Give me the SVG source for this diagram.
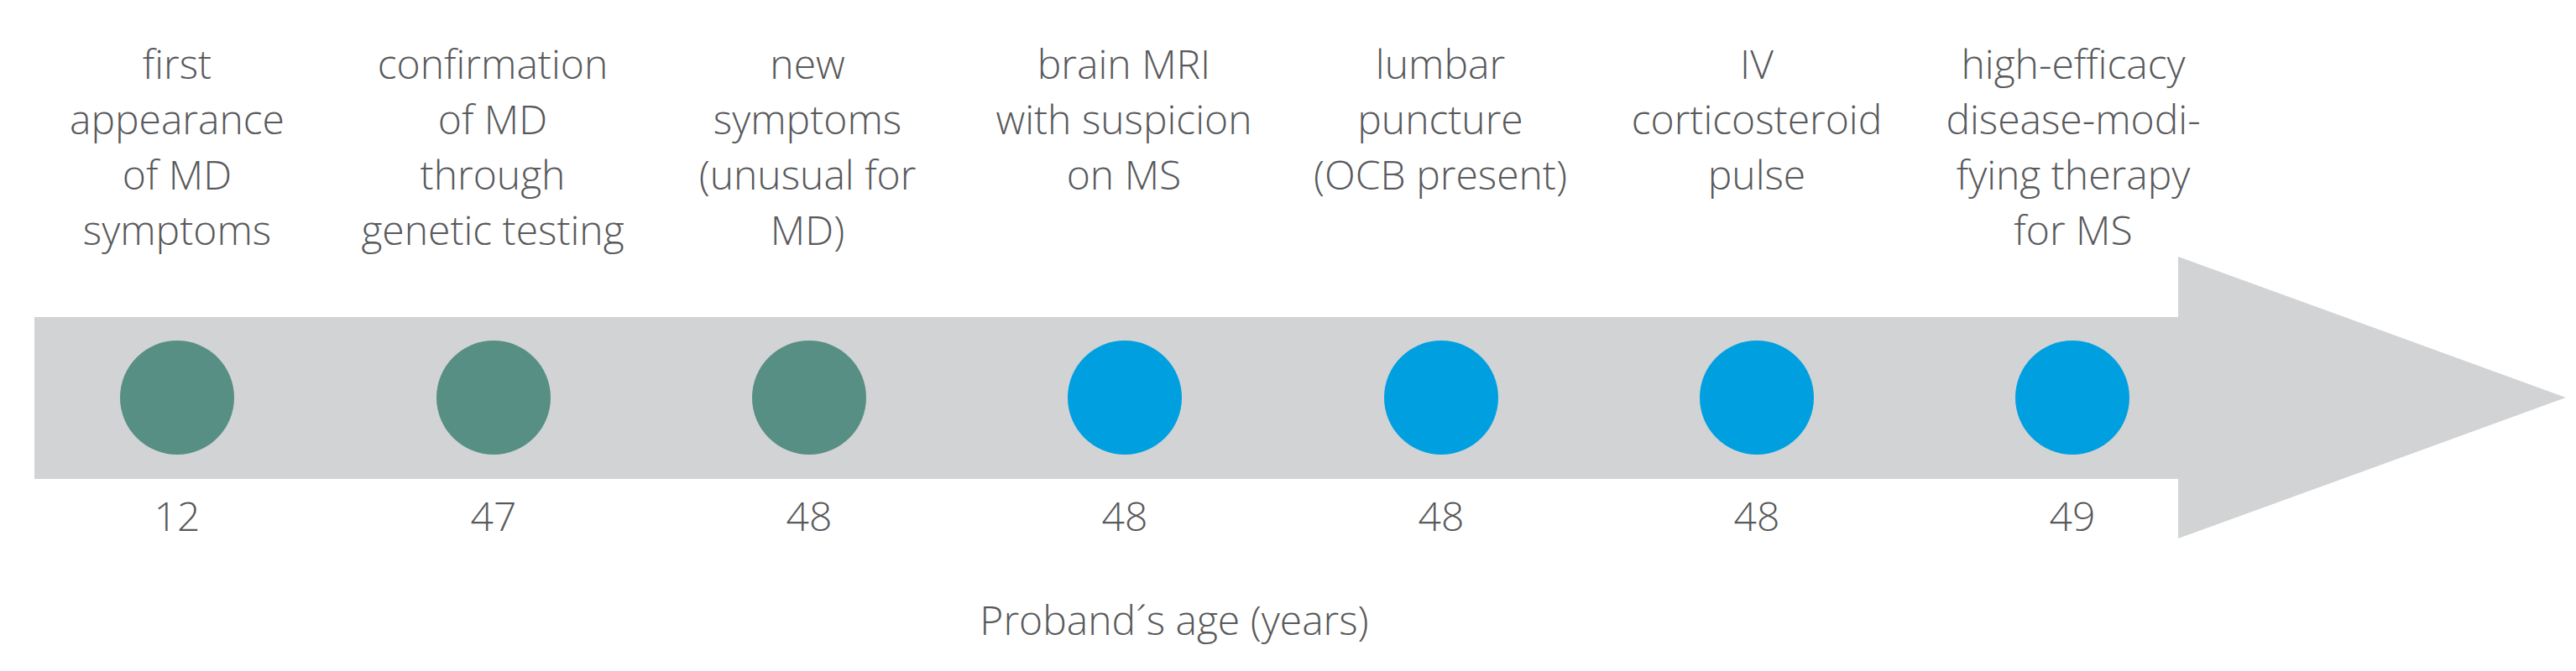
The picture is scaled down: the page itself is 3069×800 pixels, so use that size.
<svg xmlns="http://www.w3.org/2000/svg" width="3069" height="800" viewBox="0 0 3069 800">
<style>
  text { font-family: "Open Sans", "Noto Sans", "Liberation Sans", sans-serif; font-weight: 300; font-size: 48px; fill: #58595B; text-anchor: middle; }
  .md { fill: #578F84; }
  .ms { fill: #00A0E0; }
</style>
<rect x="0" y="0" width="3069" height="800" fill="#FFFFFF"/>
<g id="connectors">
  <polygon id="timeline-arrow" points="41,378 2595,378 2595,306 3057,474 2595,642 2595,571 41,571" fill="#D1D3D4"/>
</g>
<g id="node1">
  <text x="211"><tspan x="211" y="94">first</tspan><tspan x="211" y="160">appearance</tspan><tspan x="211" y="226">of MD</tspan><tspan x="211" y="292">symptoms</tspan></text>
  <circle class="md" cx="211" cy="474" r="68"/>
  <text x="211" y="633">12</text>
</g>
<g id="node2">
  <text x="587"><tspan x="587" y="94">confirmation</tspan><tspan x="587" y="160">of MD</tspan><tspan x="587" y="226">through</tspan><tspan x="587" y="292">genetic testing</tspan></text>
  <circle class="md" cx="588" cy="474" r="68"/>
  <text x="588" y="633">47</text>
</g>
<g id="node3">
  <text x="962"><tspan x="962" y="94">new</tspan><tspan x="962" y="160">symptoms</tspan><tspan x="962" y="226">(unusual for</tspan><tspan x="962" y="292">MD)</tspan></text>
  <circle class="md" cx="964" cy="474" r="68"/>
  <text x="964" y="633">48</text>
</g>
<g id="node4">
  <text x="1339"><tspan x="1339" y="94">brain MRI</tspan><tspan x="1339" y="160">with suspicion</tspan><tspan x="1339" y="226">on MS</tspan></text>
  <circle class="ms" cx="1340" cy="474" r="68"/>
  <text x="1340" y="633">48</text>
</g>
<g id="node5">
  <text x="1716"><tspan x="1716" y="94">lumbar</tspan><tspan x="1716" y="160">puncture</tspan><tspan x="1716" y="226">(OCB present)</tspan></text>
  <circle class="ms" cx="1717" cy="474" r="68"/>
  <text x="1717" y="633">48</text>
</g>
<g id="node6">
  <text x="2093"><tspan x="2093" y="94">IV</tspan><tspan x="2093" y="160">corticosteroid</tspan><tspan x="2093" y="226">pulse</tspan></text>
  <circle class="ms" cx="2093" cy="474" r="68"/>
  <text x="2093" y="633">48</text>
</g>
<g id="node7">
  <text x="2470"><tspan x="2470" y="94">high-efficacy</tspan><tspan x="2470" y="160">disease-modi-</tspan><tspan x="2470" y="226">fying therapy</tspan><tspan x="2470" y="292">for MS</tspan></text>
  <circle class="ms" cx="2469" cy="474" r="68"/>
  <text x="2469" y="633">49</text>
</g>
<g id="axis-label">
  <text x="1399" y="757">Proband´s age (years)</text>
</g>
</svg>
